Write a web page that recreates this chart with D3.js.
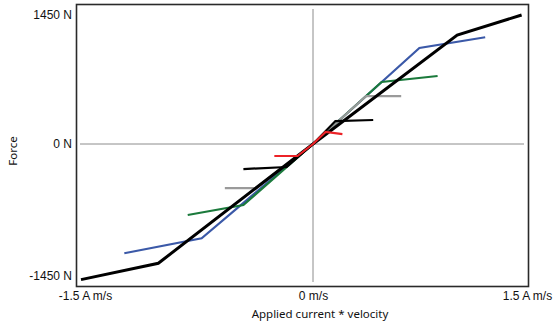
<!DOCTYPE html>
<html>
<head>
<meta charset="utf-8">
<script src="https://cdn.jsdelivr.net/npm/d3@7"></script>
<style>
  body { margin: 0; background: #fff; }
  svg { display: block; font-family: "Noto Sans", "Open Sans", sans-serif; }
</style>
</head>
<body>
<svg id="chart" width="555" height="327"></svg>
<script>
// Force vs applied current * velocity, one series per curve
const mainCurve   = [[-1.5, -1490], [-1.0, -1310], [0, 0], [1.03, 1225], [1.49, 1450]];
const blueCurve   = [[-1.22, -1200], [-0.72, -1035], [0, 0], [0.76, 1080], [1.23, 1200]];
const greenCurve  = [[-0.81, -780], [-0.45, -670], [0, 0], [0.49, 697], [0.89, 764]];
const grayCurve   = [[-0.57, -484], [-0.37, -484], [0, 0], [0.38, 539], [0.63, 539]];
const blackCurve  = [[-0.45, -275], [-0.17, -253], [0, 0], [0.16, 258], [0.43, 270]];
const redCurve    = [[-0.25, -132], [-0.10, -132], [0, 0], [0.09, 135], [0.21, 112]];

const xTicks = [-1.5, 0, 1.5];
const xTickLabels = ["-1.5 A m/s", "0 m/s", "1.5 A m/s"];
const yTicks = [-1450, 0, 1450];
const yTickLabels = ["-1450 N", "0 N", "1450 N"];

const series = [
  { data: blueCurve,  color: "#3b59a8", width: 2.2 },
  { data: greenCurve, color: "#1b7a3c", width: 2.2 },
  { data: grayCurve,  color: "#9a9a9a", width: 2.2 },
  { data: mainCurve,  color: "#000000", width: 3 },
  { data: blackCurve, color: "#000000", width: 2.2 },
  { data: redCurve,   color: "#ec2227", width: 2.2 }
];

const svg = d3.select("#chart");

// the original is not quite symmetric around the origin, so split the ranges
const x = d3.scaleLinear().domain([-1.5, 0, 1.5]).range([81, 313, 523]);
const y = d3.scaleLinear().domain([-1450, 0, 1450]).range([276, 144, 15]);

// frame
svg.append("rect")
  .attr("x", 76.5).attr("y", 4.5)
  .attr("width", 452).attr("height", 282)
  .attr("fill", "none")
  .attr("stroke", "#2a2a2a")
  .attr("stroke-width", 1.6);

// zero lines
svg.append("line")
  .attr("x1", 80).attr("x2", 524)
  .attr("y1", y(0)).attr("y2", y(0))
  .attr("stroke", "#8c8c8c").attr("stroke-width", 1);
svg.append("line")
  .attr("x1", x(0)).attr("x2", x(0))
  .attr("y1", 9).attr("y2", 282)
  .attr("stroke", "#8c8c8c").attr("stroke-width", 1);

// y tick labels
svg.append("g")
  .attr("transform", "translate(73,0)")
  .call(d3.axisLeft(y).tickValues(yTicks).tickSize(0).tickPadding(1)
    .tickFormat((d, i) => yTickLabels[i]))
  .call(ax => ax.select(".domain").remove())
  .call(ax => ax.selectAll("text")
    .style("font-family", "inherit").style("font-size", "12px").attr("fill", "#111"));

// x tick labels
svg.append("g")
  .attr("transform", "translate(0,288)")
  .call(d3.axisBottom(x).tickValues(xTicks).tickSize(0).tickPadding(3)
    .tickFormat((d, i) => xTickLabels[i]))
  .call(ax => ax.select(".domain").remove())
  .call(ax => ax.selectAll("text")
    .style("font-family", "inherit").style("font-size", "12px").attr("fill", "#111")
    .attr("dx", (d, i) => [4, 0, 4][i]));

// axis titles
svg.append("text")
  .attr("x", 320).attr("y", 318)
  .attr("text-anchor", "middle")
  .style("font-size", "11.5px")
  .attr("fill", "#111")
  .text("Applied current * velocity");

svg.append("text")
  .attr("transform", "translate(17,151) rotate(-90)")
  .attr("text-anchor", "middle")
  .style("font-size", "11.5px")
  .attr("fill", "#111")
  .text("Force");

// curves
const line = d3.line().x(d => x(d[0])).y(d => y(d[1]));

svg.selectAll(".curve")
  .data(series)
  .enter()
  .append("path")
  .attr("class", "curve")
  .attr("d", d => line(d.data))
  .attr("fill", "none")
  .attr("stroke", d => d.color)
  .attr("stroke-width", d => d.width)
  .attr("stroke-linejoin", "miter");
</script>
</body>
</html>
